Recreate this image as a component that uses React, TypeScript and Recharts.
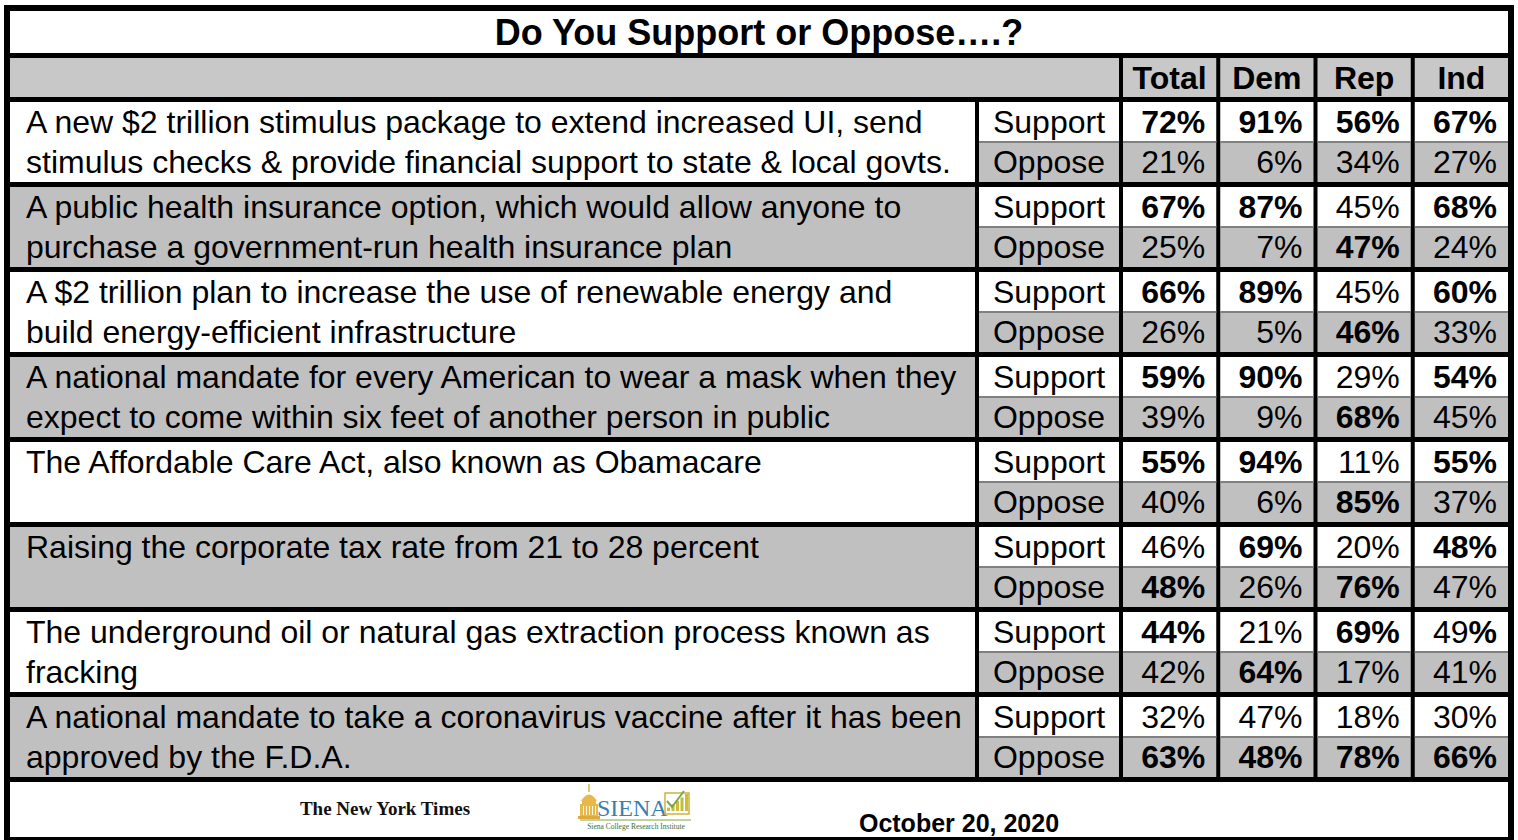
import React from "react";
import { ScatterChart, Scatter, XAxis, YAxis, Customized } from "recharts";

// ---------------- data ----------------
const TITLE = "Do You Support or Oppose….?";
const COLUMNS = ["Total", "Dem", "Rep", "Ind"];
const LABELS = ["Support", "Oppose"];
const QUESTIONS: string[][] = [
  ["A new $2 trillion stimulus package to extend increased UI, send", "stimulus checks & provide financial support to state & local govts."],
  ["A public health insurance option, which would allow anyone to", "purchase a government-run health insurance plan"],
  ["A $2 trillion plan to increase the use of renewable energy and", "build energy-efficient infrastructure"],
  ["A national mandate for every American to wear a mask when they", "expect to come within six feet of another person in public"],
  ["The Affordable Care Act, also known as Obamacare"],
  ["Raising the corporate tax rate from 21 to 28 percent"],
  ["The underground oil or natural gas extraction process known as", "fracking"],
  ["A national mandate to take a coronavirus vaccine after it has been", "approved by the F.D.A."],
];
const SUPPORT = [
  [72, 91, 56, 67],
  [67, 87, 45, 68],
  [66, 89, 45, 60],
  [59, 90, 29, 54],
  [55, 94, 11, 55],
  [46, 69, 20, 48],
  [44, 21, 69, 49],
  [32, 47, 18, 30],
];
const OPPOSE = [
  [21, 6, 34, 27],
  [25, 7, 47, 24],
  [26, 5, 46, 33],
  [39, 9, 68, 45],
  [40, 6, 85, 37],
  [48, 26, 76, 47],
  [42, 64, 17, 41],
  [63, 48, 78, 66],
];
// 1 = bold, 0 = regular, 2 = only the % sign bold
const SUPPORT_BOLD = [
  [1, 1, 1, 1],
  [1, 1, 0, 1],
  [1, 1, 0, 1],
  [1, 1, 0, 1],
  [1, 1, 0, 1],
  [0, 1, 0, 1],
  [1, 0, 1, 2],
  [0, 0, 0, 0],
];
const OPPOSE_BOLD = [
  [0, 0, 0, 0],
  [0, 0, 1, 0],
  [0, 0, 1, 0],
  [0, 0, 1, 0],
  [0, 0, 1, 0],
  [1, 0, 1, 0],
  [0, 1, 0, 0],
  [1, 1, 1, 1],
];
const DATE = "October 20, 2020";
const NYT = "The New York Times";
const SIENA = "SIENA";
const SIENA_SUB = "Siena College Research Institute";

// ---------------- layout / style ----------------
const W = 1518;
const H = 840;
const FONT = '"Liberation Sans", Arial, Helvetica, sans-serif';
const SERIF = '"Liberation Serif", "DejaVu Serif", serif';
const FS = 32;
const CAP = FS * 0.358;
const GRAY = "#c0c0c0";
const HEADER_GRAY = "#c8c8c8";
const DIVIDER = "#808080";
const INNER_L = 10;
const INNER_R = 1508;
const PLOT_TOP = 99.5;
const PLOT_BOTTOM = 779.5;
const PLOT_LEFT = 1121;
const PLOT_RIGHT = 1510;
const ROW_H = (PLOT_BOTTOM - PLOT_TOP) / 16;
const COL_W = (PLOT_RIGHT - PLOT_LEFT) / 4;
const Q_R = 975;
const LABEL_L = 979;
const LABEL_R = 1119;
const HEADER_TOP = 58;
const HEADER_BOTTOM = 97;

type CellDatum = { col: string; row: string; value: number; bold: number; kind: string };

const CELLS: CellDatum[] = [];
QUESTIONS.forEach((_, i) => {
  COLUMNS.forEach((c, j) => {
    CELLS.push({ col: c, row: `${i}-S`, value: SUPPORT[i][j], bold: SUPPORT_BOLD[i][j], kind: "S" });
  });
  COLUMNS.forEach((c, j) => {
    CELLS.push({ col: c, row: `${i}-O`, value: OPPOSE[i][j], bold: OPPOSE_BOLD[i][j], kind: "O" });
  });
});

function cellBounds(kind: string, yc: number) {
  if (kind === "S") return { top: yc - ROW_H / 2 + 2.5, bottom: yc + ROW_H / 2 };
  return { top: yc - ROW_H / 2, bottom: yc + ROW_H / 2 - 2.5 };
}

const HeaderTick = (props: any) => {
  const { x, payload } = props;
  return (
    <g>
      <rect x={x - COL_W / 2 + 2} y={HEADER_TOP} width={COL_W - 4} height={HEADER_BOTTOM - HEADER_TOP} fill={HEADER_GRAY} />
      <text x={x} y={(HEADER_TOP + HEADER_BOTTOM) / 2 + CAP} textAnchor="middle" fontFamily={FONT} fontSize={FS} fontWeight="bold" fill="#000">
        {payload.value}
      </text>
    </g>
  );
};

const RowTick = (props: any) => {
  const { y, payload } = props;
  const key: string = String(payload.value);
  const [iStr, kind] = key.split("-");
  const i = Number(iStr);
  const { top, bottom } = cellBounds(kind, y);
  const mid = (top + bottom) / 2;
  const lines = QUESTIONS[i] || [];
  const qFill = i % 2 === 0 ? "#ffffff" : GRAY;
  const oMid = y + ROW_H - 1.25;
  return (
    <g>
      {kind === "S" && (
        <g>
          <rect x={INNER_L} y={top} width={Q_R - INNER_L} height={ROW_H * 2 - 5} fill={qFill} />
          {lines.map((ln, k) => (
            <text key={k} x={26} y={(k === 0 ? mid : oMid) + CAP} fontFamily={FONT} fontSize={FS} fill="#000">
              {ln}
            </text>
          ))}
        </g>
      )}
      <rect x={LABEL_L} y={top} width={LABEL_R - LABEL_L} height={bottom - top} fill={kind === "S" ? "#ffffff" : GRAY} />
      {kind === "O" && <rect x={LABEL_L} y={top - 1} width={LABEL_R - LABEL_L} height={2} fill={DIVIDER} />}
      <text x={(LABEL_L + LABEL_R) / 2} y={mid + CAP} textAnchor="middle" fontFamily={FONT} fontSize={FS} fill="#000">
        {kind === "S" ? LABELS[0] : LABELS[1]}
      </text>
    </g>
  );
};

const ValueCell = (props: any) => {
  const { cx, cy, payload } = props;
  if (cx == null || cy == null || !payload) return <g />;
  const d: CellDatum = payload;
  const { top, bottom } = cellBounds(d.kind, cy);
  const mid = (top + bottom) / 2;
  const tx = cx + COL_W / 2 - 13;
  return (
    <g>
      <rect x={cx - COL_W / 2 + 2} y={top} width={COL_W - 4} height={bottom - top} fill={d.kind === "S" ? "#ffffff" : GRAY} />
      {d.kind === "O" && <rect x={cx - COL_W / 2 + 2} y={top - 1} width={COL_W - 4} height={2} fill={DIVIDER} />}
      <text x={tx} y={mid + CAP} textAnchor="end" fontFamily={FONT} fontSize={FS} fill="#000" fontWeight={d.bold === 1 ? "bold" : "normal"}>
        {d.bold === 2 ? (
          <>
            <tspan>{d.value}</tspan>
            <tspan fontWeight="bold">%</tspan>
          </>
        ) : (
          `${d.value}%`
        )}
      </text>
    </g>
  );
};

const TitleAndFooter = () => (
  <g>
    <text x={(INNER_L + INNER_R) / 2} y={32 + 36 * 0.358} textAnchor="middle" fontFamily={FONT} fontSize={36} fontWeight="bold" fill="#000">
      {TITLE}
    </text>
    {/* NYT wordmark */}
    <text x={385} y={815} textAnchor="middle" fontFamily={SERIF} fontSize={19} fontWeight="bold" fill="#111">
      {NYT}
    </text>
    {/* Siena logo */}
    <g>
      <line x1={589} y1={784} x2={589} y2={792} stroke="#e2b040" strokeWidth={1.5} />
      <path d="M581,801 Q589,788 597,801 Z" fill="#e7b84a" />
      <rect x={582} y={801} width={14} height={3} fill="#e7b84a" />
      <rect x={580} y={804} width={18} height={12} fill="#e7b84a" />
      {[583, 586, 589, 592, 595].map((x) => (
        <rect key={x} x={x} y={806} width={1} height={9} fill="#fff6dd" />
      ))}
      <rect x={578} y={816} width={22} height={3} fill="#e0a83a" />
      <text x={597} y={816} fontFamily={SERIF} fontSize={24} fill="#3b7fb0">
        {SIENA}
      </text>
      <rect x={665} y={793} width={24} height={21} fill="none" stroke="#cdb43a" strokeWidth={1.5} />
      {[0, 1, 2, 3, 4].map((k) => (
        <rect key={k} x={667 + k * 4.5} y={811 - (k + 1) * 3.4} width={3} height={(k + 1) * 3.4} fill={k % 2 === 0 ? "#d7b93a" : "#b7c23a"} />
      ))}
      <path d="M667,801 L672,807 L684,791" fill="none" stroke="#7aa843" strokeWidth={2} />
      <line x1={580} y1={820} x2={691} y2={820} stroke="#7aa843" strokeWidth={1} />
      <text x={636} y={829} textAnchor="middle" fontFamily={SERIF} fontSize={7.5} fill="#3d6e3d">
        {SIENA_SUB}
      </text>
    </g>
    <text x={959} y={832} textAnchor="middle" fontFamily={FONT} fontSize={25} fontWeight="bold" fill="#000">
      {DATE}
    </text>
  </g>
);

export default function App() {
  return (
    <div style={{ position: "relative", width: W, height: H, overflow: "hidden", background: "#fff" }}>
      <style>{"body{margin:0;}"}</style>
      <svg width={W} height={H} style={{ position: "absolute", left: 0, top: 0 }}>
        <rect x={4} y={5} width={1510} height={835} fill="#000" />
        <rect x={INNER_L} y={11} width={INNER_R - INNER_L} height={42} fill="#fff" />
        <rect x={INNER_L} y={HEADER_TOP} width={LABEL_R - INNER_L} height={HEADER_BOTTOM - HEADER_TOP} fill={HEADER_GRAY} />
        <rect x={INNER_L} y={782} width={INNER_R - INNER_L} height={55} fill="#fff" />
      </svg>
      <div style={{ position: "absolute", left: 0, top: 0 }}>
        <ScatterChart
          width={W}
          height={H}
          margin={{ top: HEADER_TOP, right: W - PLOT_RIGHT, bottom: H - PLOT_BOTTOM, left: 5 }}
        >
          <XAxis
            type="category"
            dataKey="col"
            orientation="top"
            height={PLOT_TOP - HEADER_TOP}
            allowDuplicatedCategory={false}
            axisLine={false}
            tickLine={false}
            interval={0}
            tick={HeaderTick}
          />
          <YAxis
            type="category"
            dataKey="row"
            width={PLOT_LEFT - 5}
            allowDuplicatedCategory={false}
            reversed
            axisLine={false}
            tickLine={false}
            interval={0}
            tick={RowTick}
          />
          <Scatter data={CELLS} isAnimationActive={false} shape={ValueCell} />
          <Customized component={TitleAndFooter} />
        </ScatterChart>
      </div>
    </div>
  );
}
